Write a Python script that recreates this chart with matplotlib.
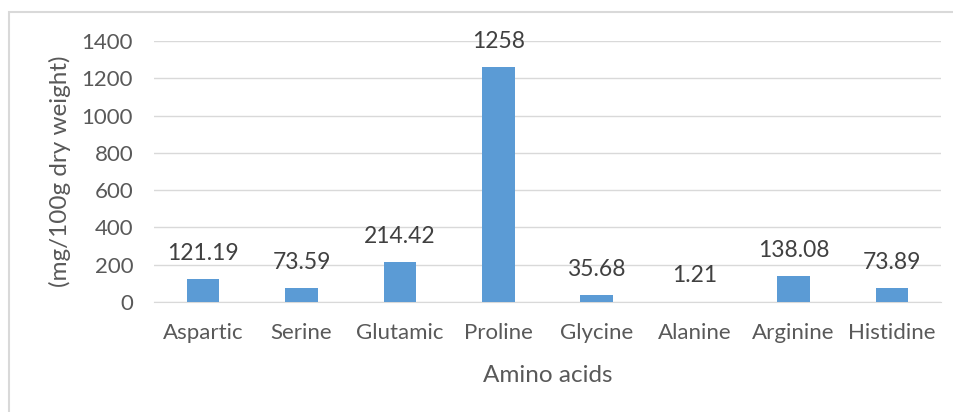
import matplotlib
matplotlib.use("Agg")
import matplotlib.pyplot as plt
from matplotlib.patches import Rectangle

amino_acids = ["Aspartic", "Serine", "Glutamic", "Proline", "Glycine", "Alanine", "Arginine", "Histidine"]
content = [121.19, 73.59, 214.42, 1258, 35.68, 1.21, 138.08, 73.89]
value_labels = ["121.19", "73.59", "214.42", "1258", "35.68", "1.21", "138.08", "73.89"]
yticks = [0, 200, 400, 600, 800, 1000, 1200, 1400]

plt.rcParams['font.family'] = ['Lato', 'DejaVu Sans']
text_col = '#595959'

fig = plt.figure(figsize=(9.54, 4.12), dpi=100)
ax = fig.add_axes([154/954, 1 - 302/412, (941-154)/954, (302-41)/412])

x = range(len(amino_acids))
ax.bar(x, content, width=0.33, color='#5B9BD5', zorder=3)
for i, (v, lab) in enumerate(zip(content, value_labels)):
    ax.annotate(lab, (i, v), xytext=(0, 11), textcoords='offset points',
                ha='center', va='bottom', fontsize=16.5, color='#404040')

ax.set_xlim(-0.5, len(amino_acids) - 0.5)
ax.set_ylim(0, 1400)
ax.set_yticks(yticks)
ax.set_xticks(list(x))
ax.set_xticklabels(amino_acids)
ax.tick_params(axis='both', length=0, labelsize=16, labelcolor=text_col)
ax.tick_params(axis='y', pad=15)
ax.tick_params(axis='x', pad=15)
ax.grid(axis='y', color='#d9d9d9', linewidth=1, zorder=0)
for s in ['top', 'right', 'left']:
    ax.spines[s].set_visible(False)
ax.spines['bottom'].set_color('#d9d9d9')

ax.set_xlabel("Amino acids", fontsize=17.5, color=text_col, labelpad=16)
ax.set_ylabel("(mg/100g dry weight)", fontsize=17.5, color=text_col, labelpad=8)

fig.patches.append(Rectangle((9/954, -0.1), 1.2, 1 - 12/412 + 0.1, transform=fig.transFigure,
                             fill=False, edgecolor='#d9d9d9', linewidth=1.5))

fig.savefig("out.png", dpi=100)
